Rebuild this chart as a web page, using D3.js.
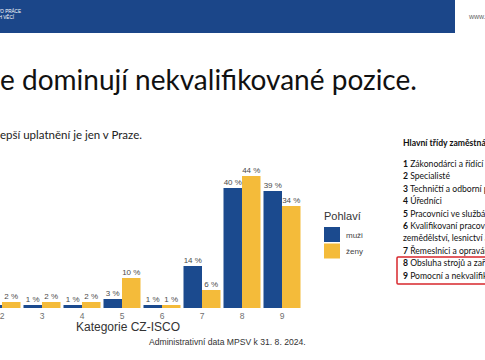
<!DOCTYPE html>
<html>
<head>
<meta charset="utf-8">
<script src="https://cdn.jsdelivr.net/npm/d3@7"></script>
<style>
  html, body { margin: 0; padding: 0; background: #fff; overflow: hidden; }
  svg { display: block; }
</style>
</head>
<body>
<script>
// ---- data ----
const categories = ["1", "2", "3", "4", "5", "6", "7", "8", "9"];
const seriesNames = ["muži", "ženy"];
const muzi = [0, 1, 1, 1, 3, 1, 14, 40, 39];
const zeny = [0, 2, 2, 2, 10, 1, 6, 44, 34];
const classLines = [
  ["1", " Zákonodárci a řídící pracovníci"],
  ["2", " Specialisté"],
  ["3", " Techničtí a odborní pracovníci"],
  ["4", " Úředníci"],
  ["5", " Pracovníci ve službách a prodeji"],
  ["6", " Kvalifikovaní pracovníci v"],
  ["", "zemědělství, lesnictví a rybářství"],
  ["7", " Řemeslníci a opraváři"],
  ["8", " Obsluha strojů a zařízení, montéři"],
  ["9", " Pomocní a nekvalifikovaní pracovníci"]
];

const W = 485, H = 360;
const svg = d3.select("body").append("svg").attr("width", W).attr("height", H);
const slideFont = "Lato, 'Open Sans', sans-serif";
const chartFont = "'Liberation Sans', Arial, sans-serif";
const colors = d3.scaleOrdinal().domain(seriesNames).range(["#1b4a8e", "#f4bb3a"]);

// header band
svg.append("rect").attr("x", 0).attr("y", 0).attr("width", 455).attr("height", 33).attr("fill", "#1b4689");
svg.append("text").attr("x", 21).attr("y", 13).attr("text-anchor", "end")
  .attr("font-family", chartFont).attr("font-size", 4.6).attr("fill", "#fff").text("MINISTERSTVO PRÁCE");
svg.append("text").attr("x", 14).attr("y", 19).attr("text-anchor", "end")
  .attr("font-family", chartFont).attr("font-size", 4.6).attr("fill", "#fff").text("A SOCIÁLNÍCH VĚCÍ");
svg.append("text").attr("x", 469).attr("y", 19)
  .attr("font-family", chartFont).attr("font-size", 7).attr("fill", "#666").text("www.mpsv.cz");

// title
svg.append("text").attr("x", 0).attr("y", 90)
  .attr("font-family", slideFont).attr("font-size", 28).attr("fill", "#111")
  .text("e dominují nekvalifikované pozice.");
svg.append("text").attr("x", 0).attr("y", 139)
  .attr("font-family", slideFont).attr("font-size", 11.5).attr("fill", "#222")
  .text("epší uplatnění je jen v Praze.");

// chart
const x = d3.scaleBand().domain(categories).range([-58, 302]).paddingInner(0.075).paddingOuter(0.0375);
const xs = d3.scaleBand().domain(seriesNames).range([0, x.bandwidth()]);
const y = d3.scaleLinear().domain([0, 50]).range([308, 158]);

const rows = categories.map((c, i) => ({ cat: c, values: [
  { key: "muži", v: muzi[i] }, { key: "ženy", v: zeny[i] } ] }));

const g = svg.append("g");
const groups = g.selectAll("g.cat").data(rows).join("g").attr("class", "cat")
  .attr("transform", d => `translate(${x(d.cat)},0)`);
groups.selectAll("rect").data(d => d.values).join("rect")
  .attr("x", d => xs(d.key)).attr("width", xs.bandwidth())
  .attr("y", d => y(d.v)).attr("height", d => y(0) - y(d.v))
  .attr("fill", d => colors(d.key));
groups.selectAll("text").data(d => d.values.filter(v => v.v > 0)).join("text")
  .attr("x", d => xs(d.key) + xs.bandwidth() / 2).attr("y", d => y(d.v) - 3)
  .attr("text-anchor", "middle").attr("font-family", chartFont).attr("font-size", 8)
  .attr("fill", "#4a4a4a").text(d => d.v + " %");

const axis = svg.append("g").attr("transform", `translate(0,${y(0)})`)
  .call(d3.axisBottom(x).tickSize(0).tickPadding(5));
axis.select(".domain").remove();
axis.selectAll("text").attr("font-family", chartFont).attr("font-size", 8.5).attr("fill", "#707070");

svg.append("text").attr("x", 76).attr("y", 331)
  .attr("font-family", chartFont).attr("font-size", 12).attr("fill", "#333").text("Kategorie CZ-ISCO");
svg.append("text").attr("x", 149).attr("y", 345)
  .attr("font-family", chartFont).attr("font-size", 8.6).attr("fill", "#333")
  .text("Administrativní data MPSV k 31. 8. 2024.");

// legend
const lg = svg.append("g").attr("transform", "translate(324,0)");
lg.append("text").attr("x", 0).attr("y", 220).attr("font-family", chartFont).attr("font-size", 11)
  .attr("fill", "#333").text("Pohlaví");
seriesNames.forEach((s, i) => {
  lg.append("rect").attr("x", 0).attr("y", 227 + i * 16.5).attr("width", 16).attr("height", 15).attr("fill", colors(s));
  lg.append("text").attr("x", 22).attr("y", 237.5 + i * 16.5).attr("font-family", chartFont)
    .attr("font-size", 8).attr("fill", "#444").text(s);
});

// right panel
svg.append("text").attr("x", 403).attr("y", 146).attr("font-family", slideFont).attr("font-size", 8.6)
  .attr("font-weight", "bold").attr("fill", "#111").text("Hlavní třídy zaměstnání (CZ-ISCO)");
classLines.forEach((l, i) => {
  const t = svg.append("text").attr("x", 403).attr("y", 167 + i * 12.4)
    .attr("font-family", slideFont).attr("font-size", 8.6).attr("fill", "#111");
  if (l[0]) t.append("tspan").attr("font-weight", "bold").text(l[0]);
  t.append("tspan").text(l[1]);
});
svg.append("rect").attr("x", 397).attr("y", 257).attr("width", 100).attr("height", 27)
  .attr("fill", "none").attr("stroke", "#d8272d").attr("stroke-width", 1.5).attr("rx", 1);
</script>
</body>
</html>
